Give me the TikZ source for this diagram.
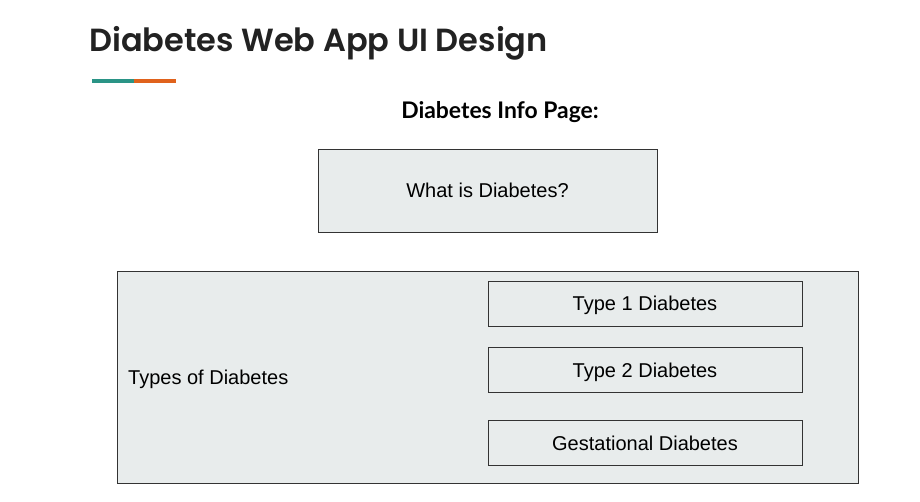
\documentclass[tikz,border=0pt]{standalone}
\usepackage{fontspec}
\setmainfont{Liberation Sans}
\newfontfamily\titlefont{Poppins}[BoldFont={Poppins SemiBold}]
\newfontfamily\latofont{Lato}
\definecolor{boxfill}{HTML}{E8ECEC}
\definecolor{boxline}{HTML}{333333}
\definecolor{tealbar}{HTML}{2A9486}
\definecolor{orangebar}{HTML}{E0621C}
\definecolor{titlecol}{HTML}{222222}
\begin{document}
\begin{tikzpicture}[x=1pt,y=-1pt,
  panel/.style={draw=boxline,line width=0.8pt,fill=boxfill},
  label/.style={font=\fontsize{20}{24}\selectfont,text=black,inner sep=0pt,anchor=base}]
\useasboundingbox[fill=white] (0,0) rectangle (920,502);
\node[anchor=base west,inner sep=0pt,text=titlecol,font=\titlefont\bfseries\fontsize{32}{38}\selectfont] (title) at (89,52) {Diabetes Web App UI Design};
\fill[tealbar] (92,79) rectangle (134,83);
\fill[orangebar] (134,79) rectangle (176,83);
\node[inner sep=0pt,anchor=base,font=\latofont\bfseries\fontsize{22.9}{27}\selectfont] (sub) at (500,119) {Diabetes Info Page:};
\draw[panel] (318,149) rectangle (657,232);
\node[label] (what) at (487.5,198) {What is Diabetes?};
\draw[panel] (117,271) rectangle (858,483);
\node[label,anchor=base west] (types) at (128,384) {Types of Diabetes};
\draw[panel] (488,281) rectangle (802,326);
\node[label] (t1) at (645,311) {Type 1 Diabetes};
\draw[panel] (488,347) rectangle (802,392);
\node[label] (t2) at (645,377) {Type 2 Diabetes};
\draw[panel] (488,420) rectangle (802,465);
\node[label] (gd) at (645,450) {Gestational Diabetes};
\end{tikzpicture}
\end{document}
